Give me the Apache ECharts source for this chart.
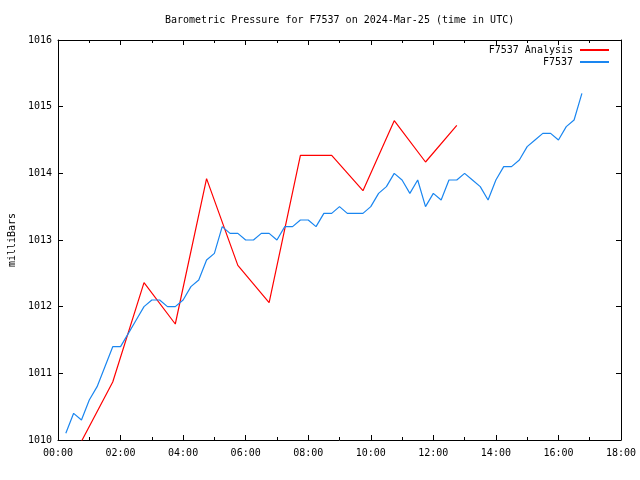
<!DOCTYPE html>
<html>
<head>
<meta charset="utf-8">
<script src="https://cdn.jsdelivr.net/npm/echarts@6/dist/echarts.min.js"></script>
<style>
html,body{margin:0;padding:0;background:#fff;}
#chart{width:640px;height:480px;}
</style>
</head>
<body>
<div id="chart"></div>
<script>
const titleText = 'Barometric Pressure for F7537 on 2024-Mar-25 (time in UTC)';
const yAxisName = 'milliBars';
const seriesNames = ['F7537 Analysis', 'F7537'];

const analysisTimes = ['00:45','01:45','02:45','03:45','04:45','05:45','06:45','07:45','08:45','09:45','10:45','11:45','12:45'];
const analysisValues = [1009.98,1010.87,1012.36,1011.74,1013.92,1012.62,1012.06,1014.27,1014.27,1013.74,1014.79,1014.17,1014.72];

const stationTimes = [
 '00:15','00:30','00:45',
 '01:00','01:15','01:30','01:45',
 '02:00','02:15','02:30','02:45',
 '03:00','03:15','03:30','03:45',
 '04:00','04:15','04:30','04:45',
 '05:00','05:15','05:30','05:45',
 '06:00','06:15','06:30','06:45',
 '07:00','07:15','07:30','07:45',
 '08:00','08:15','08:30','08:45',
 '09:00','09:15','09:30','09:45',
 '10:00','10:15','10:30','10:45',
 '11:00','11:15','11:30','11:45',
 '12:00','12:15','12:30','12:45',
 '13:00','13:15','13:30','13:45',
 '14:00','14:15','14:30','14:45',
 '15:00','15:15','15:30','15:45',
 '16:00','16:15','16:30','16:45'
];
const stationValues = [
 1010.1,1010.4,1010.3,
 1010.6,1010.8,1011.1,1011.4,
 1011.4,1011.6,1011.8,1012.0,
 1012.1,1012.1,1012.0,1012.0,
 1012.1,1012.3,1012.4,1012.7,
 1012.8,1013.2,1013.1,1013.1,
 1013.0,1013.0,1013.1,1013.1,
 1013.0,1013.2,1013.2,1013.3,
 1013.3,1013.2,1013.4,1013.4,
 1013.5,1013.4,1013.4,1013.4,
 1013.5,1013.7,1013.8,1014.0,
 1013.9,1013.7,1013.9,1013.5,
 1013.7,1013.6,1013.9,1013.9,
 1014.0,1013.9,1013.8,1013.6,
 1013.9,1014.1,1014.1,1014.2,
 1014.4,1014.5,1014.6,1014.6,
 1014.5,1014.7,1014.8,1015.2
];

const xMin = 0, xMax = 18, xInterval = 2;
const yMin = 1010, yMax = 1016, yInterval = 1;

function toHours(t) {
  const p = t.split(':');
  return Number(p[0]) + Number(p[1]) / 60;
}
function pairs(times, values) {
  return times.map((t, i) => [toHours(t), values[i]]);
}
function hourLabel(v) {
  return (v < 10 ? '0' : '') + v + ':00';
}

const FONT = 'DejaVu Sans Mono';
const chart = echarts.init(document.getElementById('chart'), null, {renderer: 'canvas'});

const axisLineStyle = {show: true, onZero: false, lineStyle: {color: '#000', width: 1}};

chart.setOption({
  animation: false,
  backgroundColor: '#fff',
  textStyle: {fontFamily: FONT},
  title: {
    text: titleText,
    left: 165,
    top: 14,
    padding: 0,
    textStyle: {fontFamily: FONT, fontSize: 10, fontWeight: 'normal', color: '#000', lineHeight: 12}
  },
  legend: {
    data: seriesNames,
    orient: 'vertical',
    right: 30,
    top: 45,
    padding: 0,
    itemGap: 2,
    itemWidth: 29,
    itemHeight: 12,
    align: 'right',
    itemStyle: {opacity: 0},
    textStyle: {fontFamily: FONT, fontSize: 10, color: '#000', padding: [0, 2, 0, 0]}
  },
  grid: {left: 58, right: 19, top: 40, bottom: 40, containLabel: false, outerBoundsMode: 'none'},
  xAxis: [
    {
      type: 'value', min: xMin, max: xMax, interval: xInterval, position: 'bottom',
      axisLine: axisLineStyle,
      axisTick: {show: true, inside: true, length: 5, lineStyle: {color: '#000'}},
      minorTick: {show: true, splitNumber: 2, length: 3, lineStyle: {color: '#000'}},
      axisLabel: {margin: 8, color: '#000', fontFamily: FONT, fontSize: 10, formatter: hourLabel},
      splitLine: {show: false}
    },
    {
      type: 'value', min: xMin, max: xMax, interval: xInterval, position: 'top',
      axisLine: axisLineStyle,
      axisTick: {show: true, inside: true, length: 5, lineStyle: {color: '#000'}},
      minorTick: {show: true, splitNumber: 2, length: 3, lineStyle: {color: '#000'}},
      axisLabel: {show: false},
      splitLine: {show: false}
    }
  ],
  yAxis: [
    {
      type: 'value', min: yMin, max: yMax, interval: yInterval, position: 'left',
      name: yAxisName, nameLocation: 'middle', nameRotate: 90, nameGap: 38,
      nameTextStyle: {fontFamily: FONT, fontSize: 10, color: '#000'},
      axisLine: axisLineStyle,
      axisTick: {show: true, inside: true, length: 5, lineStyle: {color: '#000'}},
      axisLabel: {margin: 6, color: '#000', fontFamily: FONT, fontSize: 10, formatter: v => String(v)},
      splitLine: {show: false}
    },
    {
      type: 'value', min: yMin, max: yMax, interval: yInterval, position: 'right',
      axisLine: axisLineStyle,
      axisTick: {show: true, inside: true, length: 5, lineStyle: {color: '#000'}},
      axisLabel: {show: false},
      splitLine: {show: false}
    }
  ],
  series: [
    {
      name: seriesNames[0], type: 'line', xAxisIndex: 0, yAxisIndex: 0,
      data: pairs(analysisTimes, analysisValues),
      symbol: 'none', clip: true,
      lineStyle: {color: '#ff0000', width: 1.2},
      itemStyle: {color: '#ff0000'}
    },
    {
      name: seriesNames[1], type: 'line', xAxisIndex: 0, yAxisIndex: 0,
      data: pairs(stationTimes, stationValues),
      symbol: 'none', clip: true,
      lineStyle: {color: '#1a86f0', width: 1.2},
      itemStyle: {color: '#1a86f0'}
    }
  ]
});
</script>
</body>
</html>
